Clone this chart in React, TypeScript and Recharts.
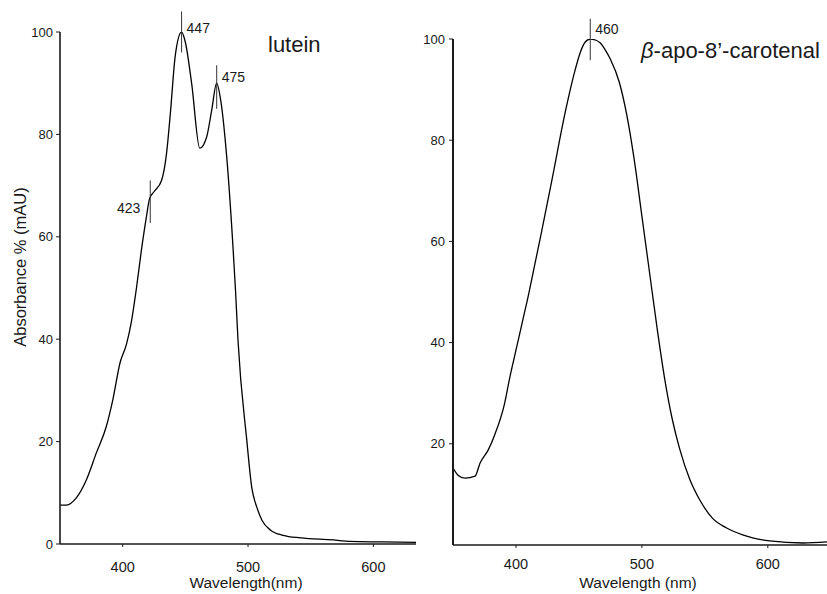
import React from 'react';
import { LineChart, Line, XAxis, YAxis, ReferenceLine } from 'recharts';

const FONT = '"Liberation Sans", Arial, Helvetica, sans-serif';
const INK = '#1a1a1a';

// lutein spectrum (wavelength nm / absorbance %)
const luteinWl = [350, 355, 363, 371, 379, 387, 392, 398, 403, 407, 411, 415, 419, 421.5, 425, 431, 435, 438, 442, 447, 450, 455, 461.5, 467, 471, 475, 478, 483, 488, 490, 492, 499, 503, 507, 511, 518, 528, 542, 568, 581, 608, 634];
const luteinAbs = [7.6, 7.6, 9, 12.5, 17.8, 23, 28, 35.5, 39, 43.5, 50, 57.5, 64, 67.5, 68.8, 71, 76.3, 84, 95.5, 100, 98, 90, 77.3, 79.5, 84.7, 90, 87, 75.6, 58, 49.6, 39.8, 20.3, 11, 7.2, 4.7, 2.7, 1.7, 1.2, 0.8, 0.5, 0.4, 0.3];

// beta-apo-8'-carotenal spectrum
const apoWl = [350, 354, 359.5, 367.5, 371.5, 378, 383, 391, 395, 400, 405, 410, 415, 420, 429, 439, 447, 451, 455, 459, 463, 467, 471, 475, 482, 488, 494, 500, 506, 512, 518, 524, 530, 538, 546, 556, 567, 580, 588, 601.5, 628, 647];
const apoAbs = [15.2, 13.8, 13.2, 13.6, 16.2, 18.8, 21.7, 28, 33, 38.5, 44, 49.5, 55.5, 61.5, 72.7, 85.4, 93.9, 97.3, 99.4, 100, 99.8, 99.2, 97.8, 96, 91.5, 85, 76, 65, 54, 43, 33, 25, 19, 13, 8.9, 5.3, 3.4, 2, 1.4, 0.8, 0.4, 0.6];

const xTicks = [400, 500, 600];
const luteinYTicks = [0, 20, 40, 60, 80, 100];
const apoYTicks = [20, 40, 60, 80, 100];

// peak markers: [wavelength, low, high]
const luteinPeaks: [number, number, number][] = [[422, 62.7, 71], [447, 96, 104], [475, 85, 93.5]];
const apoPeaks: [number, number, number][] = [[459, 95.8, 104]];

const luteinData = luteinWl.map((w, i) => ({ wl: w, abs: luteinAbs[i] }));
const apoData = apoWl.map((w, i) => ({ wl: w, abs: apoAbs[i] }));

const peakLabel = (text: string, dx: number, dy: number, anchor = 'start') => (props: any) => {
  const vb = props.viewBox || {};
  return (
    <text x={vb.x + dx} y={vb.y + dy} textAnchor={anchor} fontSize={14} fill={INK} fontFamily={FONT}>
      {text}
    </text>
  );
};

const xTitle = (text: string, dx: number, y: number) => (props: any) => {
  const vb = props.viewBox || {};
  return (
    <text x={vb.x + vb.width / 2 + dx} y={y} textAnchor="middle" fontSize={15.5} fill={INK} fontFamily={FONT}>
      {text}
    </text>
  );
};

const yTitle = (props: any) => {
  return (
    <text x={0} y={0} transform="translate(26, 267) rotate(-90)" textAnchor="middle" fontSize={16.5} fill={INK} fontFamily={FONT}>
      Absorbance % (mAU)
    </text>
  );
};

const xTick = { fontSize: 14.5, fill: INK, fontFamily: FONT };
const yTick = { fontSize: 13, fill: INK, fontFamily: FONT };
const axisLine = { stroke: INK, strokeWidth: 1.6 };
const tickLine = { stroke: INK, strokeWidth: 1 };

export default function App() {
  return (
    <div style={{ position: 'absolute', left: 0, top: 0, width: 827, height: 594, background: '#fff' }}>
      <div style={{ position: 'absolute', left: 0, top: 0 }}>
        <LineChart width={420} height={594} data={luteinData} margin={{ top: 32, right: 4, bottom: 0, left: 0 }}>
          <XAxis
            dataKey="wl" type="number" domain={[350, 634]} ticks={xTicks} allowDataOverflow
            height={50} tick={xTick} axisLine={axisLine} tickLine={tickLine} tickSize={3} tickMargin={15}
            label={{ content: xTitle('Wavelength(nm)', 8, 588) }}
          />
          <YAxis
            type="number" domain={[0, 100]} ticks={luteinYTicks} allowDataOverflow
            width={60} tick={yTick} axisLine={axisLine} tickLine={tickLine} tickSize={4} tickMargin={3}
            label={{ content: yTitle }}
          />
          <Line dataKey="abs" type="monotone" stroke="#000" strokeWidth={1.3} dot={false} isAnimationActive={false} />
          {luteinPeaks.map(([w, lo, hi], i) => (
            <ReferenceLine
              key={w}
              segment={[{ x: w, y: lo }, { x: w, y: hi }]}
              ifOverflow="visible"
              stroke="#333"
              strokeWidth={1}
              label={i === 0 ? peakLabel('423', -10, 33, 'end') : peakLabel(String(w), 5, i === 1 ? 21 : 17)}
            />
          ))}
        </LineChart>
      </div>
      <div style={{ position: 'absolute', left: 393, top: 0 }}>
        <LineChart width={434} height={594} data={apoData} margin={{ top: 39, right: 0, bottom: 0, left: 0 }}>
          <XAxis
            dataKey="wl" type="number" domain={[350, 647]} ticks={xTicks} allowDataOverflow
            height={49} tick={xTick} axisLine={axisLine} tickLine={tickLine} tickSize={3} tickMargin={11}
            label={{ content: xTitle('Wavelength (nm)', -2, 588) }}
          />
          <YAxis
            type="number" domain={[0, 100]} ticks={apoYTicks} allowDataOverflow
            width={60} tick={yTick} axisLine={{ stroke: INK, strokeWidth: 2 }} tickLine={tickLine} tickSize={4} tickMargin={4}
          />
          <Line dataKey="abs" type="monotone" stroke="#000" strokeWidth={1.3} dot={false} isAnimationActive={false} />
          {apoPeaks.map(([w, lo, hi]) => (
            <ReferenceLine
              key={w}
              segment={[{ x: w, y: lo }, { x: w, y: hi }]}
              ifOverflow="visible"
              stroke="#333"
              strokeWidth={1}
              label={peakLabel('460', 5, 15)}
            />
          ))}
        </LineChart>
      </div>
      <div style={{ position: 'absolute', left: 268, top: 34, fontFamily: FONT, fontSize: 22, lineHeight: '22px', color: INK }}>
        lutein
      </div>
      <div style={{ position: 'absolute', left: 641, top: 40, fontFamily: FONT, fontSize: 22, lineHeight: '22px', color: INK, whiteSpace: 'nowrap' }}>
        <i>β</i>-apo-8’-carotenal
      </div>
    </div>
  );
}
